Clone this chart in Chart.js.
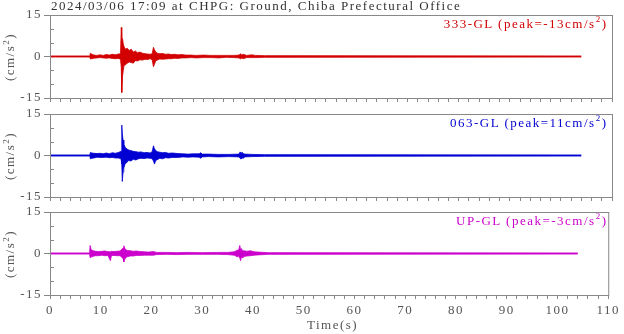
<!DOCTYPE html>
<html>
<head>
<meta charset="utf-8">
<script src="https://cdn.jsdelivr.net/npm/chart.js@4.4.1/dist/chart.umd.min.js"></script>
<style>
  html, body { margin: 0; background: #fff; }
  #wrap { position: relative; width: 624px; height: 334px; overflow: hidden;
          font: 13px "Liberation Serif", "Times New Roman", serif; letter-spacing: 1.5px; color: #555; }
  canvas { position: absolute; left: 0; top: 0; }
  .t { position: absolute; line-height: 0; white-space: nowrap; }
  .t sup { font-size: 9px; position: relative; top: -6px; vertical-align: baseline; line-height: 0; }
  .yt { position: absolute; line-height: 13px; white-space: nowrap; transform: translate(-50%, -50%) rotate(-90deg); }
  .yt sup { font-size: 9px; vertical-align: 5px; line-height: 0; }
</style>
</head>
<body>
<div id="wrap">
  <div class="t" style="left:51px; top:5.6px; color:#333">2024/03/06 17:09 at CHPG: Ground, Chiba Prefectural Office</div>
  <div class="t" style="left:307px; top:324.6px">Time(s)</div>
</div>
<script>
// acceleration envelopes (cm/s^2): time (s), upper and lower bound
const t333 = [0, 7.8, 7.9, 8.2, 8.6, 9.2, 9.8, 10.4, 11.0, 11.6,
  12.2, 12.8, 13.4, 13.8, 13.95, 14.05, 14.2, 14.35, 14.5, 14.8,
  15.1, 15.5, 15.9, 16.3, 16.7, 17.1, 17.6, 18.1, 18.6, 19.1,
  19.6, 20.0, 20.25, 20.45, 20.7, 21.0, 21.5, 22.0, 22.6, 23.2,
  23.8, 24.4, 25.0, 25.8, 26.6, 27.6, 28.6, 30, 31.5, 33,
  34.5, 36, 37.0, 37.3, 37.5, 37.8, 38.5, 39.5, 40.2, 42, 45, 104];
const hi333 = [0.2, 0.2, 1.2, 0.8, 0.5, 0.4, 0.6, 0.4, 0.7, 0.5,
  0.8, 0.6, 0.9, 1.0, 10.5, 7.0, 6.5, 4.5, 3.5, 2.6,
  3.0, 2.2, 2.6, 1.6, 2.0, 1.4, 1.6, 1.2, 1.0, 0.9,
  0.8, 1.0, 3.3, 2.4, 1.6, 1.2, 1.0, 1.1, 0.8, 0.9,
  0.7, 0.8, 0.6, 0.7, 0.5, 0.5, 0.4, 0.5, 0.4, 0.4,
  0.4, 0.4, 0.5, 1.0, 0.5, 0.8, 0.4, 0.6, 0.4, 0.3, 0.3, 0.2];
const lo333 = [-0.2, -0.2, -0.9, -0.8, -0.6, -0.5, -0.4, -0.5, -0.6, -0.5,
  -0.7, -0.8, -0.7, -1.0, -4.0, -13, -7.0, -5.0, -3.2, -3.0,
  -2.4, -2.0, -2.2, -2.4, -1.5, -1.6, -1.2, -1.3, -1.0, -1.1,
  -0.8, -1.2, -3.7, -2.8, -1.5, -1.3, -0.9, -1.0, -0.9, -0.8,
  -0.8, -0.6, -0.7, -0.5, -0.5, -0.4, -0.5, -0.4, -0.4, -0.5,
  -0.3, -0.4, -0.5, -0.9, -0.5, -0.8, -0.4, -0.4, -0.4, -0.3, -0.3, -0.2];

const t063 = [0, 7.8, 7.9, 8.2, 8.6, 9.2, 9.8, 10.4, 11.0, 11.6,
  12.2, 12.8, 13.4, 13.9, 14.05, 14.15, 14.3, 14.45, 14.7, 15.0,
  15.4, 15.8, 16.3, 16.8, 17.3, 17.8, 18.4, 19.0, 19.6, 20.0,
  20.25, 20.45, 20.7, 21.0, 21.5, 22.0, 22.6, 23.2, 24, 25,
  26, 27, 28, 29.2, 29.5, 29.8, 31, 33, 35, 37,
  37.2, 37.4, 37.6, 37.8, 38.1, 39.5, 42, 45, 104];
const hi063 = [0.2, 0.2, 1.1, 0.9, 0.8, 0.7, 0.8, 0.6, 0.9, 0.6,
  1.0, 0.8, 1.1, 1.5, 11, 8.0, 5.6, 4.2, 3.0, 2.4,
  2.0, 1.8, 1.5, 1.4, 1.2, 1.3, 1.0, 1.1, 0.9, 1.4,
  3.5, 2.4, 1.8, 1.4, 1.2, 1.0, 1.1, 0.8, 0.9, 0.7,
  0.6, 0.5, 0.6, 0.6, 1.0, 0.5, 0.5, 0.4, 0.4, 0.5,
  1.3, 0.8, 1.2, 0.7, 0.5, 0.4, 0.3, 0.3, 0.2];
const lo063 = [-0.2, -0.2, -1.2, -1.0, -0.9, -0.6, -0.7, -0.7, -0.6, -0.8,
  -0.7, -0.9, -0.9, -1.2, -3.0, -9.4, -6.0, -4.5, -3.0, -2.6,
  -1.8, -2.0, -1.4, -1.6, -1.2, -1.0, -1.1, -0.9, -1.0, -1.2,
  -2.0, -3.1, -1.8, -1.5, -1.0, -1.2, -0.8, -0.9, -0.7, -0.7,
  -0.5, -0.6, -0.5, -0.6, -1.0, -0.5, -0.4, -0.5, -0.4, -0.5,
  -1.0, -1.3, -0.8, -1.1, -0.5, -0.4, -0.3, -0.3, -0.2];

const tUP = [0, 7.8, 7.9, 8.1, 8.5, 9.0, 9.6, 10.2, 10.8, 11.4,
  11.9, 12.1, 12.6, 13.2, 13.8, 14.4, 14.55, 14.8, 15.2, 15.8,
  16.4, 17.0, 17.8, 18.6, 19.4, 20.4, 21, 23, 25, 27,
  30, 33, 35, 36.3, 36.9, 37.2, 37.4, 37.55, 37.7, 38.0,
  38.2, 38.8, 39.5, 40.2, 41, 43, 45, 104];
const hiUP = [0.2, 0.2, 2.9, 1.4, 1.0, 0.8, 0.7, 0.8, 0.9, 0.7,
  0.6, 0.8, 0.7, 0.8, 0.9, 2.0, 2.8, 1.6, 1.1, 1.0,
  0.8, 0.9, 0.7, 0.6, 0.5, 0.7, 0.4, 0.4, 0.3, 0.4,
  0.3, 0.4, 0.4, 0.6, 1.2, 1.4, 2.9, 1.3, 1.8, 0.9,
  1.0, 0.8, 1.0, 0.6, 0.5, 0.3, 0.3, 0.2];
const loUP = [-0.2, -0.2, -1.5, -1.3, -1.0, -0.8, -0.8, -0.6, -0.8, -0.7,
  -2.6, -0.8, -0.7, -0.8, -0.8, -1.8, -3, -1.8, -1.2, -0.9,
  -0.9, -0.7, -0.7, -0.6, -0.6, -0.6, -0.4, -0.3, -0.4, -0.3,
  -0.3, -0.3, -0.4, -0.6, -1.2, -1.0, -1.6, -2.6, -1.4, -1.6,
  -1.1, -0.9, -0.8, -0.6, -0.5, -0.3, -0.3, -0.2];

const names = ['333-GL', '063-GL', 'UP-GL'];
const peaks = [-13, 11, -3];
const colors = ['#d20000', '#0000d2', '#cc00cc'];

// panel boxes in page pixels
const tops = [15, 114, 212], bottoms = [98, 197, 295];
const W = 624, H = 334, RIGHT = 612;
const font = { family: '"Liberation Serif", "Times New Roman", serif', size: 13 };
const major = v => Math.round(v) % 15 === 0;

// box around each panel plus short inward ticks for the unlabelled y steps
const frame = {
  id: 'frame',
  afterDraw(chart) {
    const { ctx, chartArea: a, scales: { y } } = chart;
    ctx.save();
    ctx.strokeStyle = '#888';
    ctx.lineWidth = 1;
    ctx.strokeRect(a.left + 0.5, a.top + 0.5, a.right - a.left, a.bottom - a.top);
    ctx.beginPath();
    for (const tk of y.ticks) {
      if (major(tk.value)) continue;
      const py = Math.round(y.getPixelForValue(tk.value)) + 0.5;
      ctx.moveTo(a.left, py);
      ctx.lineTo(a.left + 4, py);
    }
    ctx.stroke();
    ctx.restore();
  }
};

const wrap = document.getElementById('wrap');

function panel(i, t, hi, lo) {
  const c = colors[i], last = i === 2;
  const cv = document.createElement('canvas');
  cv.width = W; cv.height = H;
  wrap.prepend(cv);
  const pts = arr => t.map((x, k) => ({ x, y: arr[k] }));
  new Chart(cv, {
    type: 'line',
    data: { datasets: [
      { data: pts(hi), borderColor: c, backgroundColor: c, borderWidth: 0.8, pointRadius: 0, tension: 0, fill: '+1' },
      { data: pts(lo), borderColor: c, borderWidth: 0.8, pointRadius: 0, tension: 0, fill: false },
    ]},
    options: {
      responsive: false, animation: false, devicePixelRatio: 1, events: [],
      layout: { padding: { top: tops[i], right: W - RIGHT, left: 0, bottom: 0 } },
      plugins: { legend: { display: false }, tooltip: { enabled: false } },
      scales: {
        x: { type: 'linear', min: 0, max: 110,
             afterFit: s => { s.height = H - bottoms[i]; },
             ticks: { stepSize: 2, autoSkip: false, maxRotation: 0, color: '#555', font, padding: 4,
                      callback: v => (last && Math.round(v) % 10 === 0 ? String(Math.round(v)) : '') },
             grid: { drawOnChartArea: false, tickLength: 4, color: '#888' },
             border: { display: false } },
        y: { min: -15, max: 15,
             afterFit: s => { s.width = 50; },
             ticks: { stepSize: 5, autoSkip: false, color: '#555', font, padding: 2,
                      callback: v => (major(v) ? String(Math.round(v)) : '') },
             grid: { drawOnChartArea: false, tickLength: 6,
                     tickColor: ctx => (ctx.tick && major(ctx.tick.value) ? '#888' : 'rgba(0,0,0,0)') },
             border: { display: false } }
      }
    },
    plugins: [frame]
  });

  // component label with its peak, and the unit on the left
  const lab = document.createElement('div');
  lab.className = 't';
  lab.style.cssText = `right:${W - 606 - 1.5}px; top:${tops[i] + 9}px; color:${c}`;
  lab.innerHTML = `${names[i]} (peak=${peaks[i]}cm/s<sup>2</sup>)`;
  wrap.appendChild(lab);

  const unit = document.createElement('div');
  unit.className = 'yt';
  unit.style.cssText = `left:9px; top:${(tops[i] + bottoms[i]) / 2}px`;
  unit.innerHTML = '(cm/s<sup>2</sup>)';
  wrap.appendChild(unit);
}

panel(0, t333, hi333, lo333);
panel(1, t063, hi063, lo063);
panel(2, tUP, hiUP, loUP);
</script>
</body>
</html>
